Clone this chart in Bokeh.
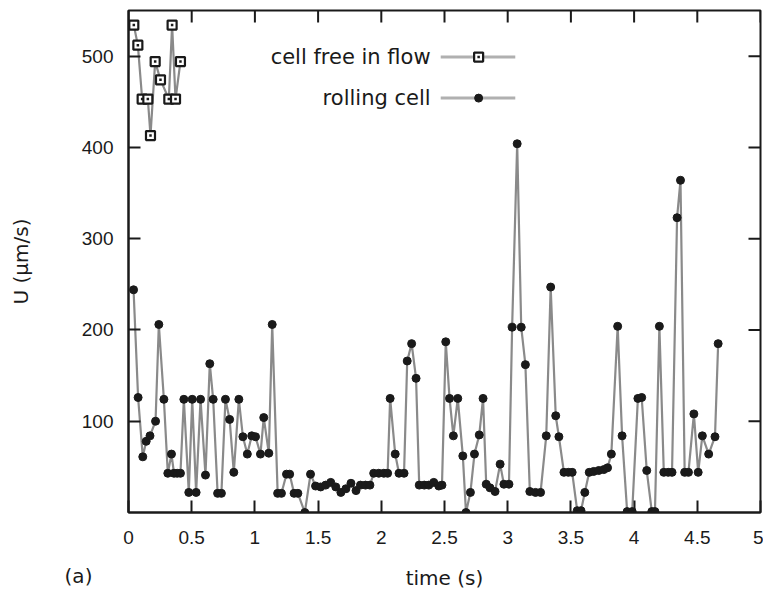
from bokeh.plotting import figure
from bokeh.models import FixedTicker, Label
from bokeh.layouts import column
from bokeh.embed import file_html
from bokeh.resources import INLINE

# ---- data ----
free_t = [0.042, 0.074, 0.108, 0.153, 0.174, 0.211, 0.253, 0.319, 0.345, 0.372, 0.411]
free_u = [534, 512, 453, 453, 413, 494, 474, 453, 534, 453, 494]

roll_t = [0.040, 0.076, 0.113, 0.140, 0.170, 0.214, 0.240, 0.280, 0.311, 0.340,
          0.360, 0.385, 0.411, 0.438, 0.477, 0.504, 0.535, 0.570, 0.609, 0.643,
          0.670, 0.705, 0.735, 0.767, 0.800, 0.833, 0.873, 0.905, 0.940, 0.975,
          1.005, 1.044, 1.070, 1.110, 1.137, 1.180, 1.210, 1.250, 1.275, 1.310,
          1.340, 1.395, 1.440, 1.480, 1.520, 1.560, 1.600, 1.640, 1.680, 1.720,
          1.760, 1.800, 1.835, 1.875, 1.910, 1.940, 1.980, 2.020, 2.050, 2.070,
          2.110, 2.140, 2.180, 2.205, 2.240, 2.275, 2.300, 2.340, 2.376, 2.415,
          2.455, 2.480, 2.510, 2.540, 2.570, 2.605, 2.645, 2.670, 2.705, 2.737,
          2.775, 2.805, 2.830, 2.860, 2.900, 2.940, 2.970, 3.010, 3.035, 3.075,
          3.107, 3.140, 3.175, 3.220, 3.260, 3.305, 3.340, 3.380, 3.405, 3.445,
          3.480, 3.510, 3.550, 3.580, 3.610, 3.645, 3.680, 3.720, 3.760, 3.790,
          3.820, 3.870, 3.905, 3.945, 3.985, 4.030, 4.060, 4.100, 4.140, 4.165,
          4.200, 4.235, 4.270, 4.300, 4.340, 4.367, 4.400, 4.430, 4.473, 4.507,
          4.540, 4.590, 4.640, 4.665]
roll_u = [244, 126, 61, 78, 84, 100, 206, 124, 43, 64,
          43, 43, 43, 124, 22, 124, 22, 124, 41, 163,
          124, 21, 21, 124, 102, 44, 124, 83, 64, 84,
          83, 64, 104, 65, 206, 21, 21, 42, 42, 21,
          21, 0, 42, 29, 28, 30, 33, 28, 22, 26,
          32, 24, 30, 30, 30, 43, 43, 43, 43, 125,
          64, 43, 43, 166, 185, 147, 30, 30, 30, 33,
          29, 30, 187, 125, 84, 125, 62, 0, 22, 64,
          85, 125, 31, 27, 23, 53, 31, 31, 203, 404,
          203, 162, 23, 22, 22, 84, 247, 106, 83, 44,
          44, 44, 2, 2, 22, 44, 45, 46, 47, 49,
          64, 204, 84, 1, 1, 125, 126, 46, 1, 1,
          204, 44, 44, 44, 323, 364, 44, 44, 108, 44,
          84, 64, 83, 185]

x_ticks = [0, 0.5, 1, 1.5, 2, 2.5, 3, 3.5, 4, 4.5, 5]
x_tick_labels = ["0", "0.5", "1", "1.5", "2", "2.5", "3", "3.5", "4", "4.5", "5"]
y_ticks = [100, 200, 300, 400, 500]

legend_free = "cell free in flow"
legend_roll = "rolling cell"
x_title = "time (s)"
y_title = "U (\u00b5m/s)"
panel_tag = "(a)"

# ---- styling ----
TICK_FONT = "Liberation Sans"
TEXT_FONT = "DejaVu Sans"
LINE_COLOR = "#8a8a8a"
INK = "#1a1a1a"
X0, X1 = 0, 5
Y0, Y1 = 0, 550
W = 763
FRAME_L = 128
FRAME_W, FRAME_H = 632, 502
TICK_PX = 12

p = figure(width=W, height=562, x_range=(X0, X1), y_range=(Y0, Y1),
           output_backend="svg", toolbar_location=None,
           min_border_left=FRAME_L, min_border_right=3, min_border_top=10,
           min_border_bottom=50)
p.background_fill_color = "white"
p.border_fill_color = "white"
p.outline_line_color = INK
p.outline_line_width = 2
p.xgrid.visible = False
p.ygrid.visible = False

for ax in (p.xaxis[0], p.yaxis[0]):
    ax.axis_line_color = INK
    ax.axis_line_width = 2
    ax.major_tick_line_color = INK
    ax.major_tick_line_width = 2
    ax.major_tick_in = TICK_PX
    ax.major_tick_out = 0
    ax.minor_tick_line_color = None
    ax.major_label_text_font = TICK_FONT
    ax.major_label_text_font_size = "19px"
    ax.major_label_text_color = INK
    ax.axis_label_text_font = TEXT_FONT
    ax.axis_label_text_font_size = "20px"
    ax.axis_label_text_font_style = "normal"
    ax.axis_label_text_color = INK

p.xaxis[0].ticker = FixedTicker(ticks=x_ticks)
p.xaxis[0].major_label_overrides = {t: s for t, s in zip(x_ticks, x_tick_labels)}
p.xaxis[0].major_label_standoff = 18

p.yaxis[0].ticker = FixedTicker(ticks=y_ticks)
p.yaxis[0].major_label_standoff = 15
p.yaxis[0].axis_label = y_title
p.yaxis[0].axis_label_standoff = 46

# mirrored inward ticks on top and right border (gnuplot style)
dy = TICK_PX * (Y1 - Y0) / FRAME_H
dx = TICK_PX * (X1 - X0) / FRAME_W
p.segment(x0=x_ticks, y0=[Y1] * len(x_ticks), x1=x_ticks, y1=[Y1 - dy] * len(x_ticks),
          line_color=INK, line_width=2)
p.segment(x0=[X1] * len(y_ticks), y0=y_ticks, x1=[X1 - dx] * len(y_ticks), y1=y_ticks,
          line_color=INK, line_width=2)

# ---- series ----
p.line(roll_t, roll_u, line_color=LINE_COLOR, line_width=2.2)
p.scatter(roll_t, roll_u, marker="circle", size=8, fill_color=INK, line_color=INK)

p.line(free_t, free_u, line_color=LINE_COLOR, line_width=2.2)
p.scatter(free_t, free_u, marker="square", size=9, fill_color="white",
          line_color=INK, line_width=2.2)
p.scatter(free_t, free_u, marker="square", size=2.5, fill_color=INK, line_color=None)

# ---- legend (text left of sample, like gnuplot) ----
leg_text_x = 2.39
leg_x0, leg_x1, leg_xm = 2.47, 3.06, 2.77
leg_y = [499, 454]

p.add_layout(Label(x=leg_text_x, y=leg_y[0], text=legend_free, text_align="right",
                   text_baseline="middle", text_font=TEXT_FONT,
                   text_font_size="21px", text_color=INK))
p.add_layout(Label(x=leg_text_x, y=leg_y[1], text=legend_roll, text_align="right",
                   text_baseline="middle", text_font=TEXT_FONT,
                   text_font_size="21px", text_color=INK))
p.line([leg_x0, leg_x1], [leg_y[0], leg_y[0]], line_color="#b0b0b0", line_width=3)
p.scatter([leg_xm], [leg_y[0]], marker="square", size=9, fill_color="white",
          line_color=INK, line_width=2.2)
p.scatter([leg_xm], [leg_y[0]], marker="square", size=2.5, fill_color=INK, line_color=None)
p.line([leg_x0, leg_x1], [leg_y[1], leg_y[1]], line_color="#b0b0b0", line_width=3)
p.scatter([leg_xm], [leg_y[1]], marker="circle", size=8, fill_color=INK, line_color=INK)

# ---- bottom strip: x-axis title and panel tag, in pixel coordinates ----
STRIP_H = 29
strip = figure(width=W, height=STRIP_H, x_range=(0, W), y_range=(0, STRIP_H),
               output_backend="svg", toolbar_location=None,
               x_axis_type=None, y_axis_type=None, min_border=0)
try:
    strip.frame_align = False   # keep the strip's frame full-width (no alignment with p)
except Exception:
    pass
strip.outline_line_color = None
strip.background_fill_color = "white"
strip.border_fill_color = "white"
strip.xgrid.visible = False
strip.ygrid.visible = False
strip.add_layout(Label(x=78, y=16, text=panel_tag, text_align="center",
                       text_baseline="middle", text_font=TEXT_FONT,
                       text_font_size="20px", text_color=INK))
strip.add_layout(Label(x=FRAME_L + FRAME_W / 2, y=14, text=x_title, text_align="center",
                       text_baseline="middle", text_font=TEXT_FONT,
                       text_font_size="20px", text_color=INK))

layout = column(p, strip, spacing=0)
open("out.html", "w").write(file_html(layout, INLINE))
